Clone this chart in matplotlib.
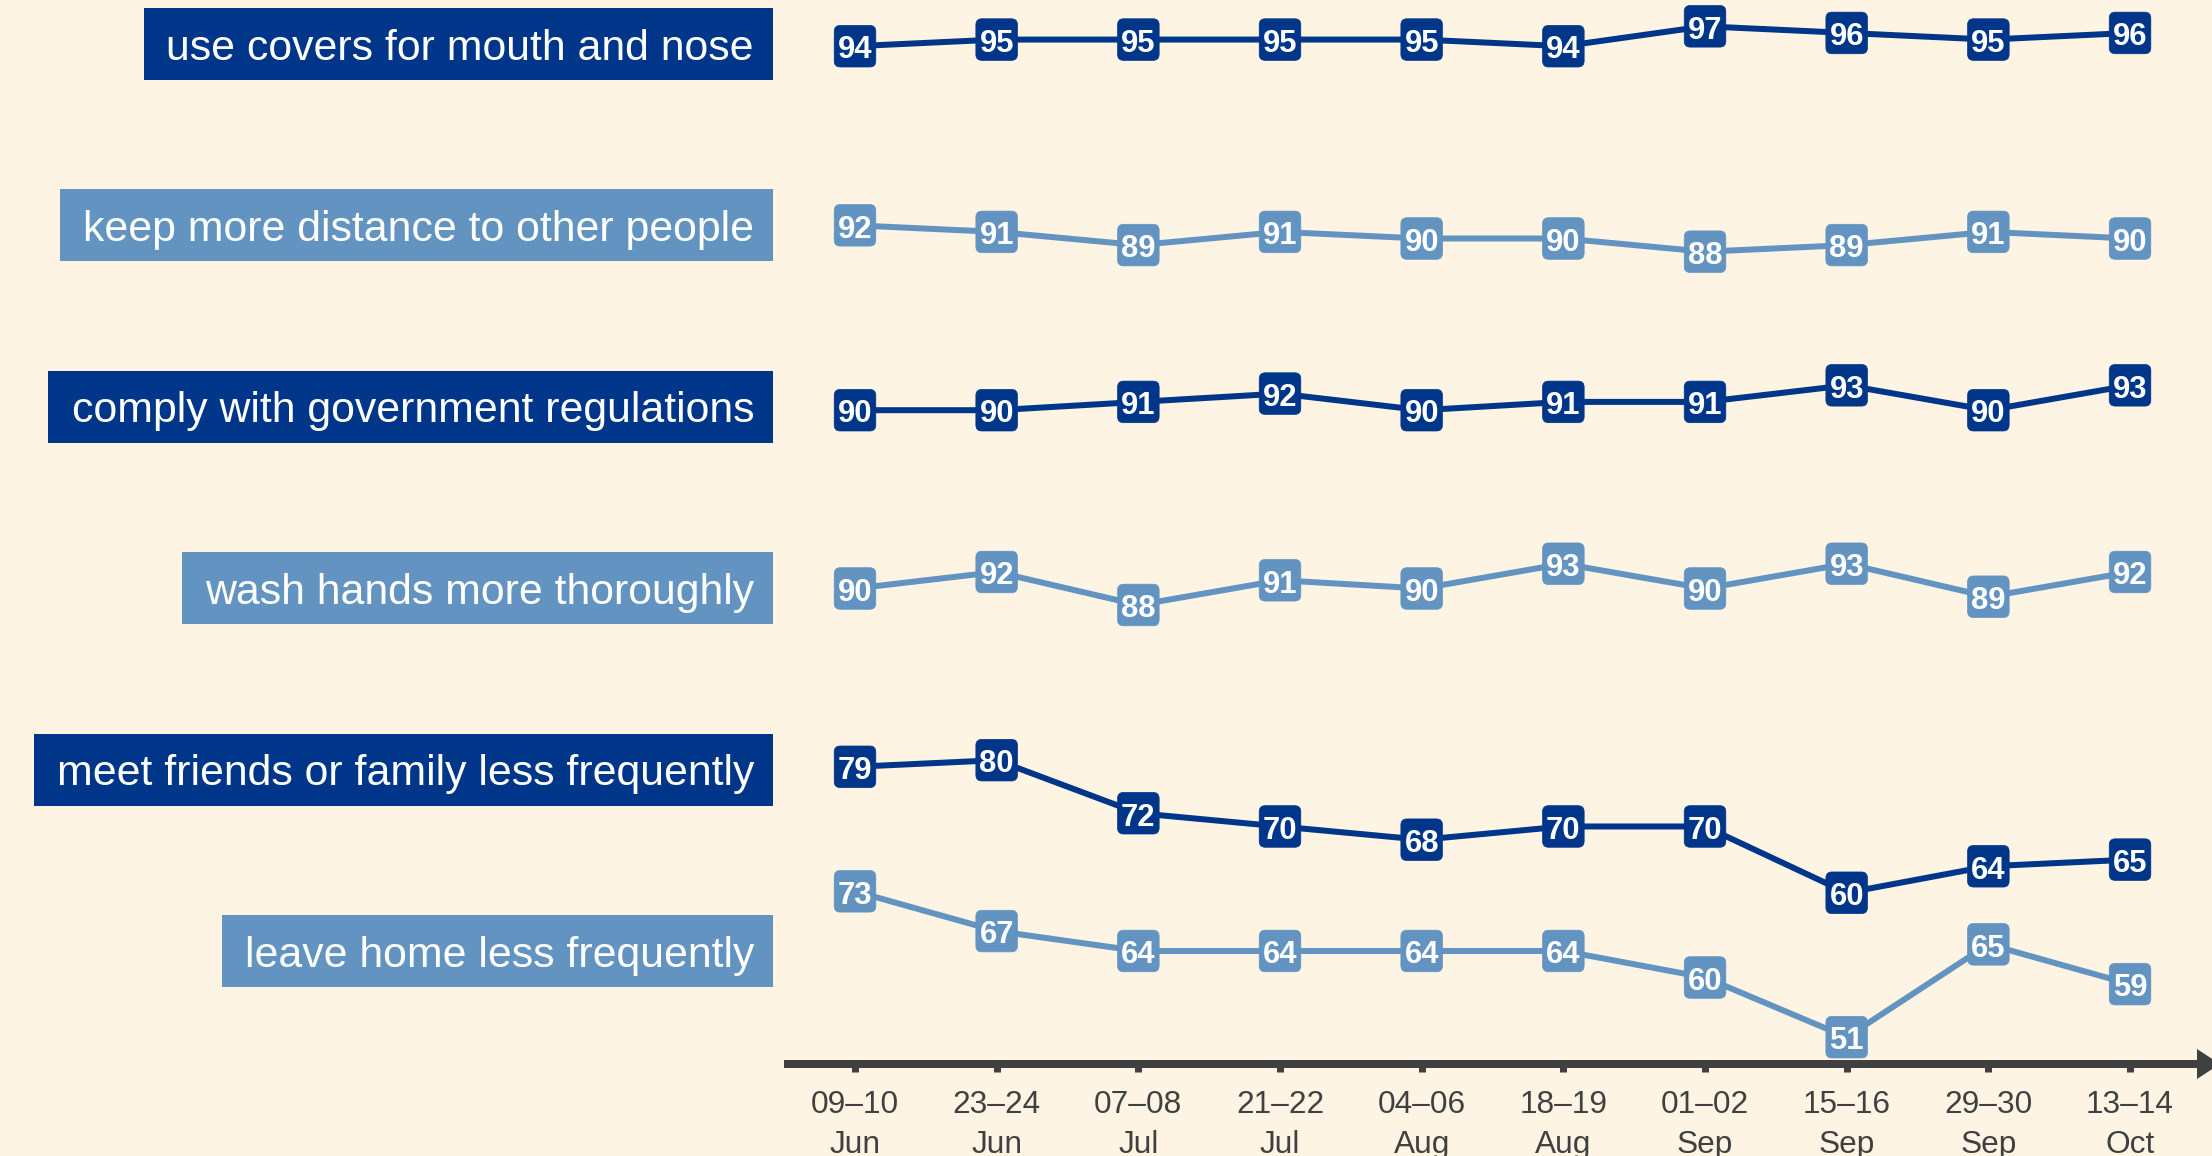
import matplotlib
matplotlib.use('Agg')
import matplotlib.pyplot as plt
import matplotlib.transforms as mtransforms
from matplotlib.patches import FancyBboxPatch, Rectangle, Polygon

W, H = 2212, 1156
DPI = 100

# ---------------- data ----------------
dates = ["09–10\nJun", "23–24\nJun", "07–08\nJul", "21–22\nJul", "04–06\nAug",
         "18–19\nAug", "01–02\nSep", "15–16\nSep", "29–30\nSep", "13–14\nOct"]
measures = ["use covers for mouth and nose",
            "keep more distance to other people",
            "comply with government regulations",
            "wash hands more thoroughly",
            "meet friends or family less frequently",
            "leave home less frequently"]
covers = [94, 95, 95, 95, 95, 94, 97, 96, 95, 96]
distance = [92, 91, 89, 91, 90, 90, 88, 89, 91, 90]
comply = [90, 90, 91, 92, 90, 91, 91, 93, 90, 93]
wash = [90, 92, 88, 91, 90, 93, 90, 93, 89, 92]
meet = [79, 80, 72, 70, 68, 70, 70, 60, 64, 65]
leave = [73, 67, 64, 64, 64, 64, 60, 51, 65, 59]
series = [covers, distance, comply, wash, meet, leave]

# ---------------- style / layout ----------------
DARK = '#00368a'
LIGHT = '#6394c1'
colors = [DARK, LIGHT, DARK, LIGHT, DARK, LIGHT]
BG = '#fdf4e3'
AXC = '#404040'
FONT = 'Liberation Sans'

panel_scale = [6.63, 6.6, 8.3, 8.25, 6.63, 6.63]      # px per percentage point
panel_y0 = [46.2, 225.3, 410.2, 588.5, 766.8, 891.3]  # pixel row of first value
label_y = [44 + 181.4 * i for i in range(6)]          # label box centres (px)

plot_left_px = 784
x0_px, dx_px = 855, 141.67
axis_y_px = 1064
label_right_px = 773

fig = plt.figure(figsize=(W / DPI, H / DPI), dpi=DPI, facecolor=BG)


def fx(px):
    return px / W


def fy(py):
    return 1 - py / H


xlim = (-(x0_px - plot_left_px) / dx_px, (W - x0_px) / dx_px)

# ---- base axis with arrow ----
axb = fig.add_axes([fx(plot_left_px), fy(axis_y_px),
                    1 - fx(plot_left_px), fy(0) - fy(axis_y_px)])
axb.set_facecolor('none')
for s in ['left', 'top', 'right']:
    axb.spines[s].set_visible(False)
axb.spines['bottom'].set_linewidth(8 * 0.72)
axb.spines['bottom'].set_color(AXC)
axb.spines['bottom'].set_capstyle('butt')
axb.set_xlim(*xlim)
axb.set_yticks([])
axb.set_xticks(range(len(dates)))
axb.set_xticklabels(dates, fontsize=22.8, color=AXC, family=FONT, linespacing=1.42)
axb.tick_params(axis='x', length=8 * 0.72, width=7 * 0.72, color=AXC,
                direction='out', pad=13)

arrow = Polygon([(fx(2197), fy(1049)), (fx(2197), fy(1079)), (fx(2220), fy(1064))],
                closed=True, transform=fig.transFigure, facecolor=AXC,
                edgecolor='none', zorder=5)
fig.add_artist(arrow)

# ---- series panels ----
for i, vals in enumerate(series):
    c = colors[i]
    s = panel_scale[i]
    p0 = panel_y0[i]
    v0 = vals[0]
    ax = fig.add_axes([fx(plot_left_px), 0, 1 - fx(plot_left_px), 1])
    ax.set_facecolor('none')
    ax.axis('off')
    xs = list(range(len(vals)))
    ax.plot(xs, vals, color=c, lw=6 * 0.72, zorder=2, clip_on=False)
    for j, v in enumerate(vals):
        trans = fig.dpi_scale_trans + mtransforms.ScaledTranslation(j, v, ax.transData)
        box = FancyBboxPatch((-0.208, -0.208), 0.416, 0.416,
                             boxstyle='round,pad=0,rounding_size=0.06',
                             transform=trans, facecolor=c, edgecolor=c, lw=0.5,
                             zorder=3, clip_on=False)
        ax.add_artist(box)
        ax.annotate(f"{v}", (j, v), xytext=(0, -12.3 * 0.72), textcoords='offset points',
                    ha='center', va='baseline', color='white', fontsize=22.3,
                    fontweight='bold', family=FONT, zorder=4, annotation_clip=False)
    ax.set_xlim(*xlim)
    ax.set_ylim(v0 - (H - p0) / s, v0 + p0 / s)

# ---- left labels ----
renderer = fig.canvas.get_renderer()
for i, name in enumerate(measures):
    t = fig.text(fx(754), fy(label_y[i] + 15.5), name, ha='right', va='baseline',
                 fontsize=30.8, color='white', family=FONT, zorder=3)
    bb = t.get_window_extent(renderer)
    left = bb.x0 - 23
    rect = Rectangle((fx(left), fy(label_y[i] + 36)), fx(label_right_px) - fx(left), 72 / H,
                     transform=fig.transFigure, facecolor=colors[i], edgecolor='none',
                     zorder=1)
    fig.add_artist(rect)

fig.savefig('out.png', dpi=DPI, facecolor=BG)
